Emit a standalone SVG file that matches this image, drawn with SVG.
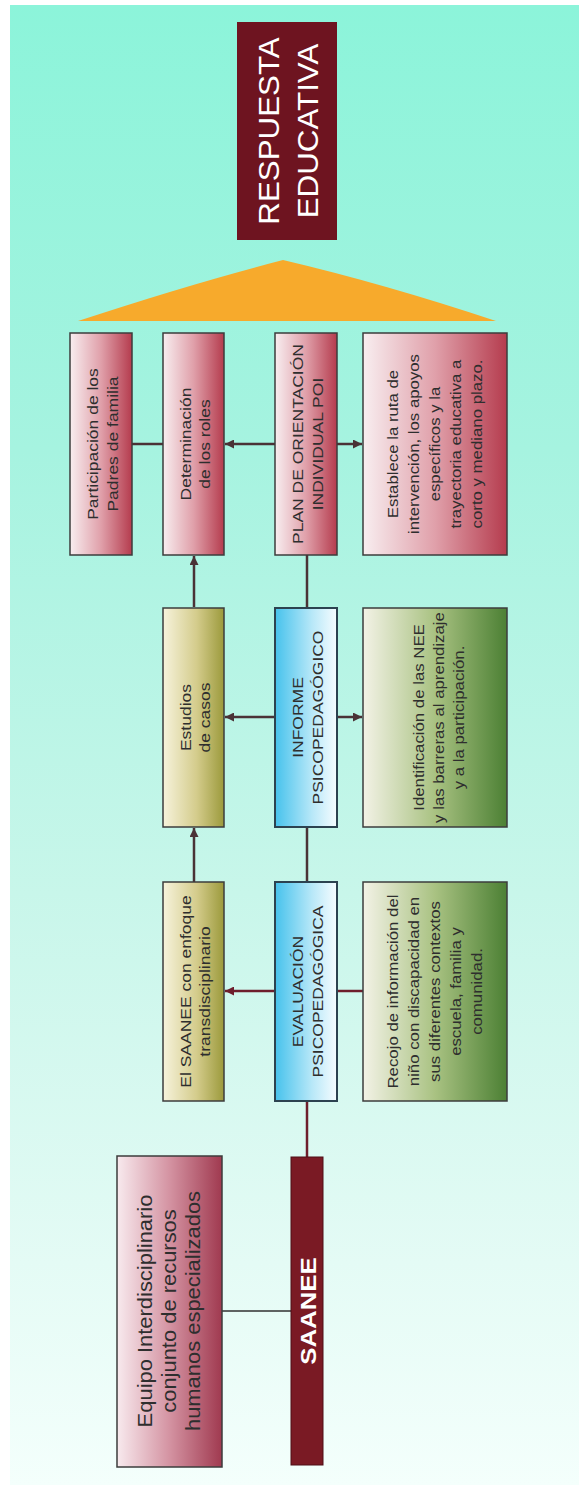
<svg xmlns="http://www.w3.org/2000/svg" width="587" height="1490" viewBox="0 0 587 1490">
<defs>
<linearGradient id="bg" x1="0" y1="0" x2="0" y2="1">
<stop offset="0" stop-color="#8cf4da"/>
<stop offset="0.3" stop-color="#a6f3e0"/>
<stop offset="0.6" stop-color="#c8f6ea"/>
<stop offset="0.85" stop-color="#e4fbf5"/>
<stop offset="1" stop-color="#f4fffc"/>
</linearGradient>
<linearGradient id="gRed" x1="0" y1="0" x2="1" y2="0">
<stop offset="0" stop-color="#f8eef0"/>
<stop offset="0.5" stop-color="#e0a0aa"/>
<stop offset="1" stop-color="#b53c4e"/>
</linearGradient>
<linearGradient id="gOlive" x1="0" y1="0" x2="1" y2="0">
<stop offset="0" stop-color="#f7f3dc"/>
<stop offset="0.55" stop-color="#d4cc8c"/>
<stop offset="1" stop-color="#9c9a3c"/>
</linearGradient>
<linearGradient id="gBlue" x1="0" y1="0" x2="1" y2="0">
<stop offset="0" stop-color="#46c2ec"/>
<stop offset="0.6" stop-color="#b8e8f8"/>
<stop offset="1" stop-color="#f6fcff"/>
</linearGradient>
<linearGradient id="gGreen" x1="0" y1="0" x2="1" y2="0">
<stop offset="0" stop-color="#f3f2e6"/>
<stop offset="0.5" stop-color="#a9c282"/>
<stop offset="1" stop-color="#4c8034"/>
</linearGradient>
<linearGradient id="gEquipo" x1="0" y1="0" x2="1" y2="0">
<stop offset="0" stop-color="#f8eaee"/>
<stop offset="0.5" stop-color="#d493a2"/>
<stop offset="1" stop-color="#a03a50"/>
</linearGradient>
<marker id="ah" viewBox="0 0 10 10" refX="10" refY="5" markerWidth="11" markerHeight="9" markerUnits="userSpaceOnUse" orient="auto">
<path d="M0,0 L10,5 L0,10 z" fill="#4a3236"/>
</marker>
<marker id="ahr" viewBox="0 0 10 10" refX="10" refY="5" markerWidth="11" markerHeight="9" markerUnits="userSpaceOnUse" orient="auto">
<path d="M0,0 L10,5 L0,10 z" fill="#6e1e2c"/>
</marker>
</defs>
<style>
text { font-family: "Liberation Sans", Arial, sans-serif; text-anchor: middle; }
.box { stroke: #3c3c3c; stroke-width: 1.5; }
.bbox { stroke: #2c4250; stroke-width: 2; }
.t { font-size: 15.5px; fill: #2e2e2e; }
.d { font-size: 15px; fill: #2e2e2e; }
.eq { font-size: 20.5px; fill: #2e2e2e; }
.w { fill: #ffffff; }
.con { stroke: #4a3236; stroke-width: 2.5; fill: none; }
.conr { stroke: #6e1e2c; stroke-width: 2.5; fill: none; }
.thin { stroke: #303030; stroke-width: 1.5; fill: none; }
</style>
<rect x="10" y="5" width="569" height="1480" fill="url(#bg)"/>

<g id="respuesta">
<rect x="237" y="22" width="100" height="218" fill="#6e1420"/>
<g transform="translate(287,131) rotate(-90) scale(1.08,1)">
<text class="w" style="font-size:29px" x="0" y="-8">RESPUESTA</text>
<text class="w" style="font-size:29px" x="0" y="31">EDUCATIVA</text>
</g>
</g>

<g id="triangulo">
<path d="M78,321 Q190,284 283,260 Q385,284 496,321 Z" fill="#f7aa2c"/>
</g>

<g id="connectors">
<line class="con" x1="132" y1="444" x2="163" y2="444"/>
<line class="con" x1="275" y1="444" x2="225" y2="444" marker-end="url(#ah)"/>
<line class="con" x1="337" y1="444" x2="362" y2="444" marker-end="url(#ah)"/>
<line class="con" x1="194" y1="607" x2="194" y2="556" marker-end="url(#ah)"/>
<line class="con" x1="307" y1="555" x2="307" y2="608"/>
<line class="con" x1="275" y1="717" x2="225" y2="717" marker-end="url(#ah)"/>
<line class="con" x1="337" y1="717" x2="362" y2="717" marker-end="url(#ah)"/>
<line class="con" x1="194" y1="882" x2="194" y2="828" marker-end="url(#ah)"/>
<line class="con" x1="307" y1="827" x2="307" y2="882"/>
<line class="conr" x1="275" y1="991" x2="225" y2="991" marker-end="url(#ahr)"/>
<line class="conr" x1="337" y1="991" x2="363" y2="991"/>
<line class="conr" x1="307" y1="1101" x2="307" y2="1157"/>
<line class="thin" x1="222" y1="1311" x2="291" y2="1311"/>
</g>

<g id="participacion">
<rect class="box" x="70" y="333" width="62" height="222" fill="url(#gRed)"/>
<g transform="translate(101,444) rotate(-90) scale(1.13,1)">
<text class="t" x="0" y="-3">Participación de los</text>
<text class="t" x="0" y="17">Padres de familia</text>
</g>
</g>

<g id="determinacion">
<rect class="box" x="163" y="333" width="61" height="222" fill="url(#gRed)"/>
<g transform="translate(193.5,444) rotate(-90) scale(1.13,1)">
<text class="t" x="0" y="-3">Determinación</text>
<text class="t" x="0" y="17">de los roles</text>
</g>
</g>

<g id="plan">
<rect class="box" x="275" y="333" width="62" height="222" fill="url(#gRed)"/>
<g transform="translate(306,444) rotate(-90) scale(1.13,1)">
<text class="t" x="0" y="-3">PLAN DE ORIENTACIÓN</text>
<text class="t" x="0" y="17">INDIVIDUAL POI</text>
</g>
</g>

<g id="establece">
<rect class="box" x="363" y="333" width="144" height="222" fill="url(#gRed)"/>
<g transform="translate(435,444) rotate(-90) scale(1.12,1)">
<text class="d" x="0" y="-37">Establece la ruta de</text>
<text class="d" x="0" y="-16">intervención, los apoyos</text>
<text class="d" x="0" y="5">específicos y la</text>
<text class="d" x="0" y="26">trayectoria educativa a</text>
<text class="d" x="0" y="47">corto y mediano plazo.</text>
</g>
</g>

<g id="estudios">
<rect class="box" x="163" y="608" width="61" height="219" fill="url(#gOlive)"/>
<g transform="translate(193.5,717.5) rotate(-90) scale(1.13,1)">
<text class="t" x="0" y="-3">Estudios</text>
<text class="t" x="0" y="17">de casos</text>
</g>
</g>

<g id="informe">
<rect class="bbox" x="275" y="608" width="62" height="219" fill="url(#gBlue)"/>
<g transform="translate(306,717.5) rotate(-90) scale(1.13,1)">
<text class="t" x="0" y="-3">INFORME</text>
<text class="t" x="0" y="17">PSICOPEDAGÓGICO</text>
</g>
</g>

<g id="identificacion">
<rect class="box" x="363" y="608" width="144" height="219" fill="url(#gGreen)"/>
<g transform="translate(435,717.5) rotate(-90) scale(1.12,1)">
<text class="d" x="0" y="-11">Identificación de las NEE</text>
<text class="d" x="0" y="9">y las barreras al aprendizaje</text>
<text class="d" x="0" y="29">y a la participación.</text>
</g>
</g>

<g id="el-saanee">
<rect class="box" x="163" y="882" width="61" height="219" fill="url(#gOlive)"/>
<g transform="translate(193.5,991.5) rotate(-90) scale(1.13,1)">
<text class="t" x="0" y="-3">El SAANEE con enfoque</text>
<text class="t" x="0" y="17">transdisciplinario</text>
</g>
</g>

<g id="evaluacion">
<rect class="bbox" x="275" y="882" width="62" height="219" fill="url(#gBlue)"/>
<g transform="translate(306,991.5) rotate(-90) scale(1.13,1)">
<text class="t" x="0" y="-3">EVALUACIÓN</text>
<text class="t" x="0" y="17">PSICOPEDAGÓGICA</text>
</g>
</g>

<g id="recojo">
<rect class="box" x="363" y="882" width="144" height="219" fill="url(#gGreen)"/>
<g transform="translate(435,991.5) rotate(-90) scale(1.12,1)">
<text class="d" x="0" y="-37">Recojo de información del</text>
<text class="d" x="0" y="-16">niño con discapacidad en</text>
<text class="d" x="0" y="5">sus diferentes contextos</text>
<text class="d" x="0" y="26">escuela, familia y</text>
<text class="d" x="0" y="47">comunidad.</text>
</g>
</g>

<g id="equipo">
<rect class="box" x="117" y="1156" width="105" height="311" fill="url(#gEquipo)"/>
<g transform="translate(169.5,1311) rotate(-90) scale(1.07,1)">
<text class="eq" x="0" y="-17.5">Equipo Interdisciplinario</text>
<text class="eq" x="0" y="6.5">conjunto de recursos</text>
<text class="eq" x="0" y="30.5">humanos especializados</text>
</g>
</g>

<g id="saanee">
<rect x="291" y="1157" width="32" height="308" fill="#7a1a24" stroke="#4e0e16" stroke-width="1"/>
<g transform="translate(307,1311) rotate(-90) scale(1.12,1)">
<text class="w" style="font-size:23px;font-weight:bold" x="0" y="9">SAANEE</text>
</g>
</g>
</svg>
